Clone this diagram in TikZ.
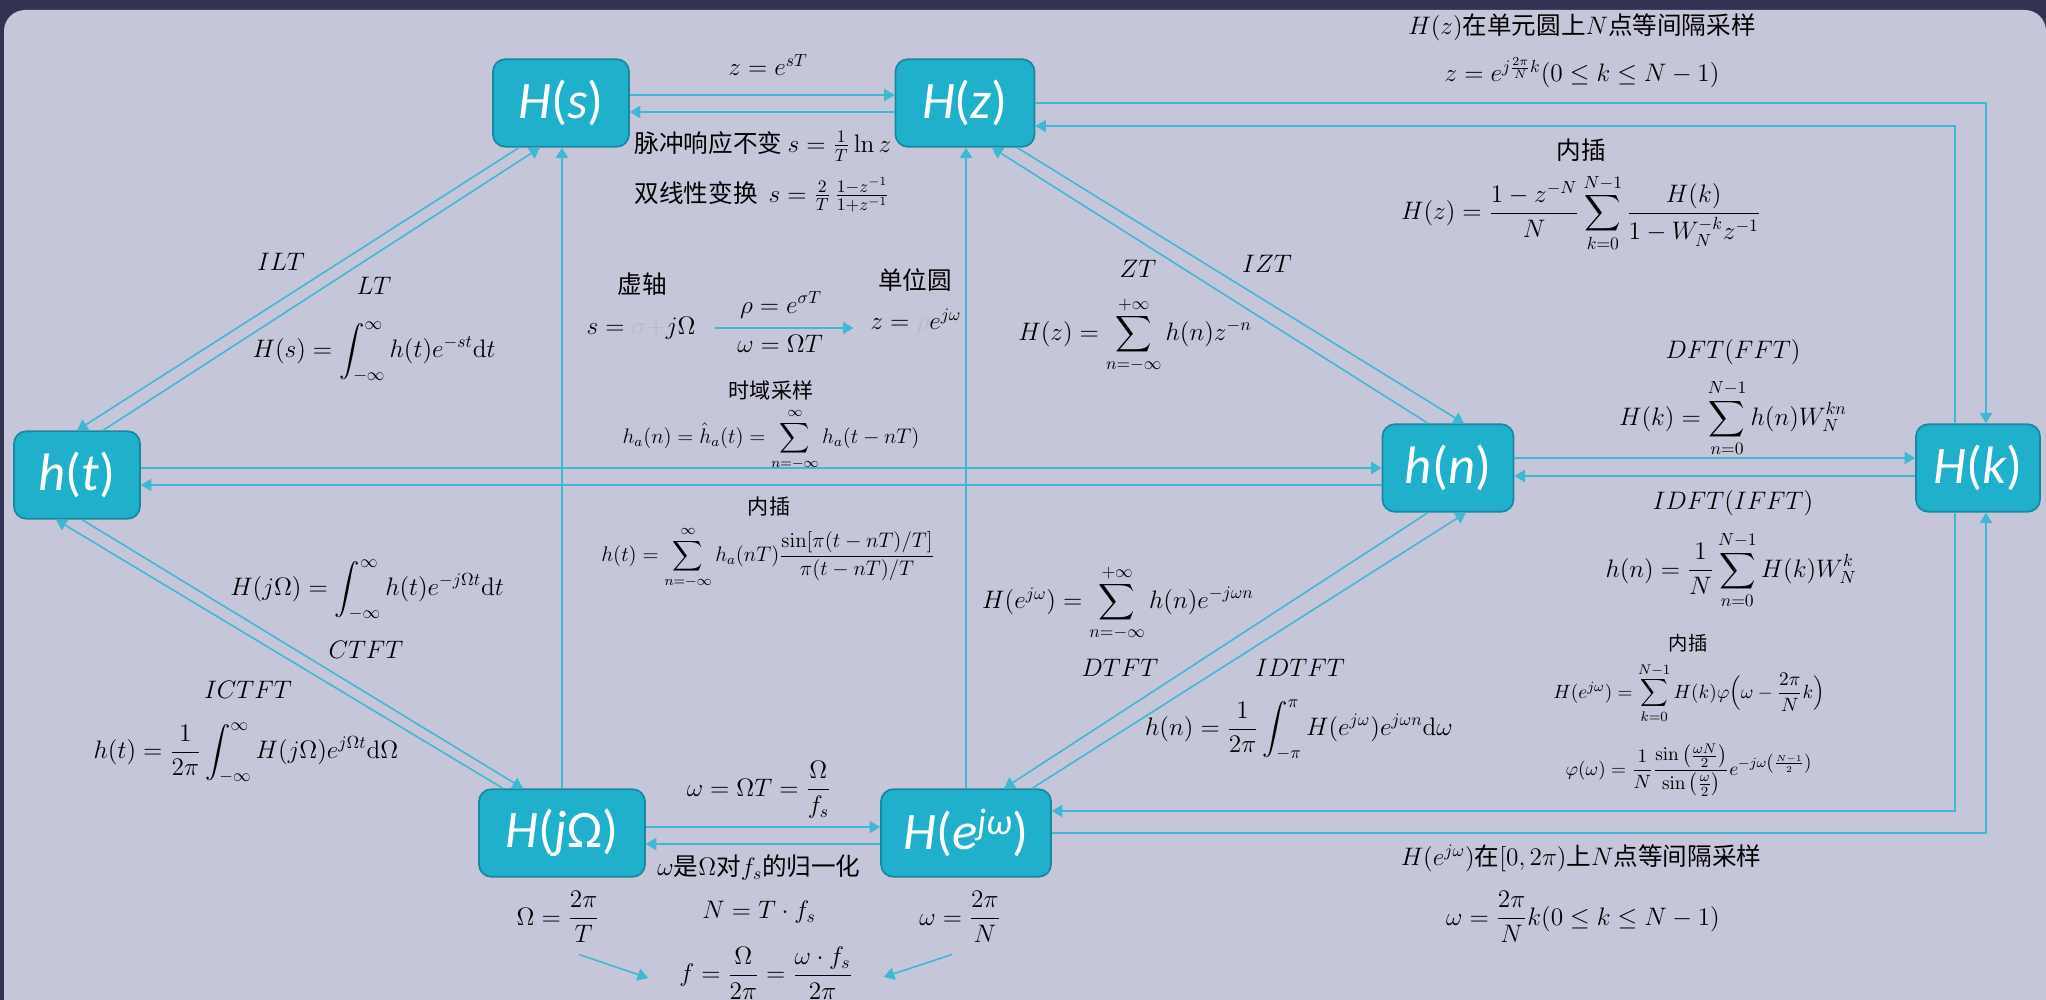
\documentclass[tikz,border=0pt]{standalone}
\usepackage{amsmath}
\usepackage[no-math]{fontspec}
\setmainfont{Noto Sans CJK SC}
\newfontfamily\boxfont{Carlito}
\usetikzlibrary{arrows.meta,calc}

\definecolor{frame}{RGB}{50,50,82}
\definecolor{panel}{RGB}{198,198,218}
\definecolor{boxfill}{RGB}{33,176,204}
\definecolor{boxline}{RGB}{24,136,160}
\definecolor{link}{RGB}{64,184,212}
\definecolor{faint}{RGB}{186,186,196}

\newcommand\sigfn[2]{#1\textup{(}#2\textup{)}}

\begin{document}
\begin{tikzpicture}[
  x=0.02cm,
  y=-0.02cm,
  font=\fontsize{14}{17}\selectfont,
  line/.style={draw=link,line width=0.9pt},
  arrow/.style={line,-{Triangle[length=6pt,width=7pt]}},
  sigbox/.style={draw=boxline,fill=boxfill,line width=1pt,rounded corners=7pt,
    text=white,minimum height=1.75cm,inner sep=0pt,
    font=\boxfont\fontsize{30}{32}\selectfont\itshape},
  lbl/.style={inner sep=1pt},
  midtext/.style={lbl,font=\fontsize{12}{14}\selectfont},
  finetext/.style={lbl,font=\fontsize{11}{13}\selectfont}
]

% Slide background
\useasboundingbox (0,0) rectangle (2046,1000);
\fill[frame] (0,0) rectangle (2046,1000);
\fill[panel,rounded corners=12pt] (4,10) rectangle (2046,1060);

% Signal / spectrum boxes
\node[sigbox,minimum width=2.72cm] (Hs) at (561,103) {\sigfn{H}{s}};
\node[sigbox,minimum width=2.78cm] (Hz) at (965,103) {\sigfn{H}{z}};
\node[sigbox,minimum width=2.52cm] (ht) at (77,475) {\sigfn{h}{t}};
\node[sigbox,minimum width=2.62cm] (hn) at (1448,468) {\sigfn{h}{n}};
\node[sigbox,minimum width=2.48cm] (Hk) at (1978,468) {\sigfn{H}{k}};
\node[sigbox,minimum width=3.32cm] (HjW) at (562,833) {\sigfn{H}{j\textup{Ω}}};
\node[sigbox,minimum width=3.40cm] (Hew) at (966,833) {\sigfn{H}{e\textsuperscript{jω}}};

% H(s) <-> H(z)
\draw[arrow] ($(Hs.east)+(0,-8)$) -- ($(Hz.west)+(0,-8)$);
\draw[arrow] ($(Hz.west)+(0,9)$) -- ($(Hs.east)+(0,9)$);
\node[lbl] (zsT) at (768,65) {$z=e^{sT}$};
\node[lbl] (imp) at (763,146) {脉冲响应不变 $s=\frac{1}{T}\ln z$};
\node[lbl] (bil) at (762,195) {双线性变换\ \ $s=\frac{2}{T}\,\frac{1-z^{-1}}{1+z^{-1}}$};

% h(t) <-> H(s)
\draw[arrow] ($(Hs.south)+(-42,0)$) -- (ht.north);
\draw[arrow] ($(ht.north)+(26,0)$) -- ($(Hs.south)+(-21,0)$);
\node[lbl] (ILT) at (281,262) {$ILT$};
\node[lbl] (LT) at (374,286) {$LT$};
\node[lbl] (LTeq) at (374,352) {$H(s)=\displaystyle\int_{-\infty}^{\infty}h(t)e^{-st}\mathrm{d}t$};

% h(t) <-> H(j Omega)
\draw[arrow] ($(ht.south)+(5,0)$) -- ($(HjW.north)+(-39,0)$);
\draw[arrow] ($(HjW.north)+(-59,0)$) -- ($(ht.south)+(-21,0)$);
\node[lbl] (CTFTeq) at (367,590) {$H(j\Omega)=\displaystyle\int_{-\infty}^{\infty}h(t)e^{-j\Omega t}\mathrm{d}t$};
\node[lbl] (CTFT) at (366,650) {$CTFT$};
\node[lbl] (ICTFT) at (248,690) {$ICTFT$};
\node[lbl] (ICTFTeq) at (246,753) {$h(t)=\dfrac{1}{2\pi}\displaystyle\int_{-\infty}^{\infty}H(j\Omega)e^{j\Omega t}\mathrm{d}\Omega$};

% vertical links into H(s) and H(z)
\draw[arrow] (HjW.north) -- (HjW.north |- Hs.south);
\draw[arrow] (Hew.north) -- (Hew.north |- Hz.south);

% s-plane to z-plane mapping
\node[lbl] (imag) at (642,284) {虚轴};
\node[lbl] (sax) at (641,328) {$s=\textcolor{faint}{\sigma+}j\Omega$};
\node[lbl] (rho) at (781,305) {$\rho=e^{\sigma T}$};
\node[lbl] (wOT) at (780,344) {$\omega=\Omega T$};
\node[lbl] (unit) at (915,280) {单位圆};
\node[lbl] (zax) at (916,322) {$z=\textcolor{faint}{\rho}e^{j\omega}$};
\draw[arrow,shorten <=0.34cm,shorten >=0.3cm] (sax.east) -- (sax.east -| zax.west);

% sampling and interpolation in time
\node[midtext] (tsamp) at (771,390) {时域采样};
\node[midtext] (tsampeq) at (771,440) {$h_a(n)=\hat{h}_a(t)=\displaystyle\sum_{n=-\infty}^{\infty}h_a(t-nT)$};
\node[midtext] (interp1) at (769,507) {内插};
\node[midtext] (interp1eq) at (768,558) {$h(t)=\displaystyle\sum_{n=-\infty}^{\infty}h_a(nT)\frac{\sin[\pi(t-nT)/T]}{\pi(t-nT)/T}$};

% h(t) <-> h(n)
\draw[arrow] (ht.east |- hn.west) -- (hn.west);
\draw[arrow] ($(hn.west)+(0,17)$) -- ($(ht.east)+(0,10)$);

% H(j Omega) <-> H(e^jw)
\draw[arrow] ($(HjW.east)+(0,-6)$) -- ($(Hew.west)+(0,-6)$);
\draw[arrow] ($(Hew.west)+(0,11)$) -- ($(HjW.east)+(0,11)$);
\node[lbl] (wnorm) at (759,790) {$\omega=\Omega T=\dfrac{\Omega}{f_s}$};
\node[lbl] (wnormtxt) at (759,868) {$\omega$是$\Omega$对$f_s$的归一化};
\node[lbl] (Wdef) at (558,917) {$\Omega=\dfrac{2\pi}{T}$};
\node[lbl] (Ndef) at (759,912) {$N=T\cdot f_s$};
\node[lbl] (wdef) at (960,917) {$\omega=\dfrac{2\pi}{N}$};
\node[lbl] (fdef) at (766,973) {$f=\dfrac{\Omega}{2\pi}=\dfrac{\omega\cdot f_s}{2\pi}$};
\draw[arrow] ($(Wdef.south)+(21,10)$) -- ($(fdef.west)+(-29,5)$);
\draw[arrow] ($(wdef.south)+(-8,10)$) -- ($(fdef.east)+(29,4)$);

% H(z) <-> h(n)
\draw[arrow] ($(hn.north)+(-20,0)$) -- ($(Hz.south)+(27,0)$);
\draw[arrow] ($(Hz.south)+(52,0)$) -- ($(hn.north)+(16,0)$);
\node[lbl] (ZT) at (1138,269) {$ZT$};
\node[lbl] (IZT) at (1267,264) {$IZT$};
\node[lbl] (ZTeq) at (1135,335) {$H(z)=\displaystyle\sum_{n=-\infty}^{+\infty}h(n)z^{-n}$};

% h(n) <-> H(e^jw)
\draw[arrow] ($(hn.south)+(-20,0)$) -- ($(Hew.north)+(38,0)$);
\draw[arrow] ($(Hew.north)+(66,0)$) -- ($(hn.south)+(18,0)$);
\node[lbl] (DTFTeq) at (1118,603) {$H(e^{j\omega})=\displaystyle\sum_{n=-\infty}^{+\infty}h(n)e^{-j\omega n}$};
\node[lbl] (DTFT) at (1120,668) {$DTFT$};
\node[lbl] (IDTFT) at (1300,668) {$IDTFT$};
\node[lbl] (IDTFTeq) at (1299,730) {$h(n)=\dfrac{1}{2\pi}\displaystyle\int_{-\pi}^{\pi}H(e^{j\omega})e^{j\omega n}\mathrm{d}\omega$};

% h(n) <-> H(k)
\draw[arrow] ($(hn.east)+(0,-10)$) -- ($(Hk.west)+(0,-10)$);
\draw[arrow] ($(Hk.west)+(0,8)$) -- ($(hn.east)+(0,8)$);
\node[lbl] (DFT) at (1733,352) {$DFT(FFT)$};
\node[lbl] (DFTeq) at (1733,418) {$H(k)=\displaystyle\sum_{n=0}^{N-1}h(n)W_N^{kn}$};
\node[lbl] (IDFT) at (1733,503) {$IDFT(IFFT)$};
\node[lbl] (IDFTeq) at (1731,570) {$h(n)=\dfrac{1}{N}\displaystyle\sum_{n=0}^{N-1}H(k)W_N^{k}$};

% H(z) <-> H(k), round the top
\draw[arrow] (Hz.east) -| ($(Hk.north)+(8,0)$);
\draw[arrow] ($(Hk.north)+(-23,0)$) |- ($(Hz.east)+(0,23)$);
\node[lbl] (zsamp) at (1582,27) {$H(z)$在单元圆上$N$点等间隔采样};
\node[lbl] (zsampeq) at (1582,73) {$z=e^{j\frac{2\pi}{N}k}(0\le k\le N-1)$};
\node[lbl] (interp2) at (1581,150) {内插};
\node[lbl] (interp2eq) at (1581,213) {$H(z)=\dfrac{1-z^{-N}}{N}\displaystyle\sum_{k=0}^{N-1}\frac{H(k)}{1-W_N^{-k}z^{-1}}$};

% H(e^jw) <-> H(k), round the bottom
\draw[arrow] (Hew.east) -| ($(Hk.south)+(8,0)$);
\draw[arrow] ($(Hk.south)+(-23,0)$) |- ($(Hew.east)+(0,-22)$);
\node[finetext] (interp3) at (1688,643) {内插};
\node[finetext] (interp3eq) at (1689,693) {$H(e^{j\omega})=\displaystyle\sum_{k=0}^{N-1}H(k)\varphi\Big(\omega-\frac{2\pi}{N}k\Big)$};
\node[finetext] (phieq) at (1689,770) {$\varphi(\omega)=\dfrac{1}{N}\dfrac{\sin\left(\frac{\omega N}{2}\right)}{\sin\left(\frac{\omega}{2}\right)}e^{-j\omega\left(\frac{N-1}{2}\right)}$};
\node[lbl] (wsamp) at (1581,858) {$H(e^{j\omega})$在$[0,2\pi)$上$N$点等间隔采样};
\node[lbl] (wsampeq) at (1583,917) {$\omega=\dfrac{2\pi}{N}k(0\le k\le N-1)$};

\end{tikzpicture}
\end{document}
